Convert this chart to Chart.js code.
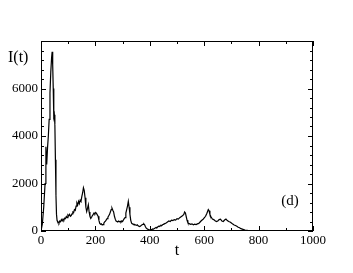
<!DOCTYPE html>
<html>
<head>
<meta charset="utf-8">
<script src="https://cdn.jsdelivr.net/npm/chart.js@4.4.1/dist/chart.umd.min.js"></script>
<style>
  html, body { margin: 0; padding: 0; background: #fff; }
  #wrap { width: 353px; height: 273px; }
</style>
</head>
<body>
<div id="wrap"><canvas id="chart" width="353" height="273"></canvas></div>
<script>
// ===============================
// DATA
// ===============================
const tValues = [
  0, 5, 10, 15, 18, 21, 24, 27, 30, 33, 36, 39, 41, 43, 45, 47, 49, 51, 53, 55, 57, 59,
  60, 63, 66, 69, 72, 75, 78, 81, 84, 87, 90, 93, 96, 99, 102, 105, 108, 111, 114, 117,
  120, 123, 126, 129, 132, 135, 138, 141, 144, 147, 150, 153, 156, 159, 162, 165, 168,
  171, 174, 177, 180, 183, 186, 189, 192, 195, 198, 201, 204, 207, 210, 213, 216, 219,
  222, 225, 228, 231, 234, 237, 240, 243, 246, 249, 252, 255, 258, 261, 264, 267, 270,
  273, 276, 279, 282, 285, 288, 291, 294, 297, 300, 303, 306, 309, 312, 315, 318, 321,
  324, 327, 330, 333, 336, 339, 342, 345, 348, 351, 354, 357, 360, 363, 366, 369, 372,
  375, 378, 381, 384, 387, 390, 393, 396, 399, 402, 405, 408, 411, 414, 417, 420, 423,
  426, 429, 432, 435, 438, 441, 444, 447, 450, 455, 460, 465, 470, 475, 480, 485, 490,
  495, 500, 505, 510, 515, 520, 525, 528, 531, 534, 537, 540, 545, 550, 555, 560, 565,
  570, 575, 580, 585, 590, 595, 600, 605, 610, 615, 618, 621, 625, 630, 635, 640, 645,
  650, 655, 660, 665, 670, 675, 680, 685, 690, 695, 700, 705, 710, 715, 720, 725, 730,
  735, 740, 745, 750, 760, 770, 780, 800, 850, 900, 950, 1000
];
const iValues = [
  0, 300, 1000, 2000, 3550, 2800, 3500, 4000, 4700, 5800, 6700, 7300, 7550, 7000, 6000, 4800, 4900, 4500, 3000, 1500, 700, 450,
  420, 380, 330, 420, 390, 480, 430, 500, 460, 540, 520, 610, 560, 680, 640, 700, 620, 650, 720, 800,
  780, 900, 870, 1050, 1180, 1100, 1250, 1150, 1300, 1250, 1450, 1600, 1820, 1700, 1400, 1000, 820,
  950, 1100, 800, 620, 530, 580, 650, 700, 760, 720, 780, 740, 680, 620, 450, 320, 280,
  300, 250, 270, 330, 380, 420, 470, 520, 580, 640, 700, 800, 900, 960, 870, 800, 620,
  500, 420, 400, 380, 420, 390, 410, 380, 430, 400, 460, 520, 560, 750, 900, 1050, 1250,
  1000, 700, 450, 330, 300, 290, 260, 270, 250, 240, 260, 220, 200, 190, 210, 240, 260,
  280, 300, 260, 180, 120, 90, 70, 60, 40, 50, 60, 70, 90, 80, 110, 130, 150,
  140, 170, 200, 190, 220, 240, 230, 260, 280, 310, 340, 380, 420, 400, 460, 440, 480,
  460, 520, 500, 560, 600, 640, 700, 800, 760, 600, 450, 350, 310, 280, 300, 260, 290,
  270, 300, 320, 380, 440, 480, 550, 620, 750, 900, 850, 700, 600, 500, 480, 430, 400,
  420, 480, 500, 420, 400, 460, 500, 440, 400, 380, 340, 290, 250, 230, 200, 160, 140,
  100, 80, 60, 40, 25, 15, 10, 8, 5, 3, 2, 2
];
const xTicks = [0, 200, 400, 600, 800, 1000];
const yTicks = [0, 2000, 4000, 6000];

const SERIF = "'Liberation Serif', 'DejaVu Serif', serif";

// ===============================
// FRAME, INWARD TICKS, LABELS
// ===============================
const framePlugin = {
  id: "frame",
  afterDatasetsDraw(chart) {
    const { ctx, chartArea: a, scales } = chart;
    ctx.save();
    ctx.strokeStyle = "#000";
    ctx.lineWidth = 1;
    ctx.strokeRect(a.left + 0.5, a.top + 0.5, a.right - a.left - 1, a.bottom - a.top - 1);

    ctx.beginPath();
    for (let v = 0; v <= 1000; v += 100) {
      const x = Math.round(scales.x.getPixelForValue(v)) + 0.5;
      const len = v % 200 === 0 ? 5 : 3;
      ctx.moveTo(x, a.bottom);
      ctx.lineTo(x, a.bottom - len);
      ctx.moveTo(x, a.top);
      ctx.lineTo(x, a.top + len);
    }
    for (let v = 0; v <= 8000; v += 400) {
      const y = Math.round(scales.y.getPixelForValue(v)) + 0.5;
      const len = v % 2000 === 0 ? 5 : 3;
      ctx.moveTo(a.left, y);
      ctx.lineTo(a.left + len, y);
      ctx.moveTo(a.right, y);
      ctx.lineTo(a.right - len, y);
    }
    ctx.stroke();

    ctx.fillStyle = "#000";
    ctx.textBaseline = "middle";
    ctx.font = "16px " + SERIF;
    ctx.textAlign = "left";
    ctx.fillText("I(t)", 8, 58);
    ctx.textAlign = "center";
    ctx.fillText("t", (a.left + a.right) / 2, 251);
    ctx.font = "15px " + SERIF;
    ctx.fillText("(d)", 290, 201);
    ctx.restore();
  },
};

const chartCanvas = document.getElementById("chart");

new Chart(chartCanvas, {
  type: "line",
  data: {
    datasets: [
      {
        data: tValues.map((t, i) => ({ x: t, y: iValues[i] })),
        borderColor: "#000",
        borderWidth: 1.2,
        pointRadius: 0,
        tension: 0,
        fill: false,
      },
    ],
  },
  options: {
    responsive: false,
    animation: false,
    devicePixelRatio: 1,
    layout: { padding: { left: 0, top: 41, right: 40, bottom: 0 } },
    scales: {
      x: {
        type: "linear",
        min: 0,
        max: 1000,
        afterBuildTicks: (s) => {
          s.ticks = xTicks.map((v) => ({ value: v }));
        },
        afterFit: (s) => {
          s.height = 42;
        },
        ticks: {
          color: "#000",
          padding: 2,
          maxRotation: 0,
          font: { family: SERIF, size: 13 },
          callback: (v) => String(v),
        },
        grid: { display: false, drawTicks: false },
        border: { display: false },
      },
      y: {
        min: 0,
        max: 8000,
        afterBuildTicks: (s) => {
          s.ticks = yTicks.map((v) => ({ value: v }));
        },
        afterFit: (s) => {
          s.width = 41;
        },
        ticks: {
          color: "#000",
          padding: 3,
          font: { family: SERIF, size: 13 },
          callback: (v) => String(v),
        },
        grid: { display: false, drawTicks: false },
        border: { display: false },
      },
    },
    plugins: {
      legend: { display: false },
      tooltip: { enabled: false },
    },
  },
  plugins: [framePlugin],
});
</script>
</body>
</html>
